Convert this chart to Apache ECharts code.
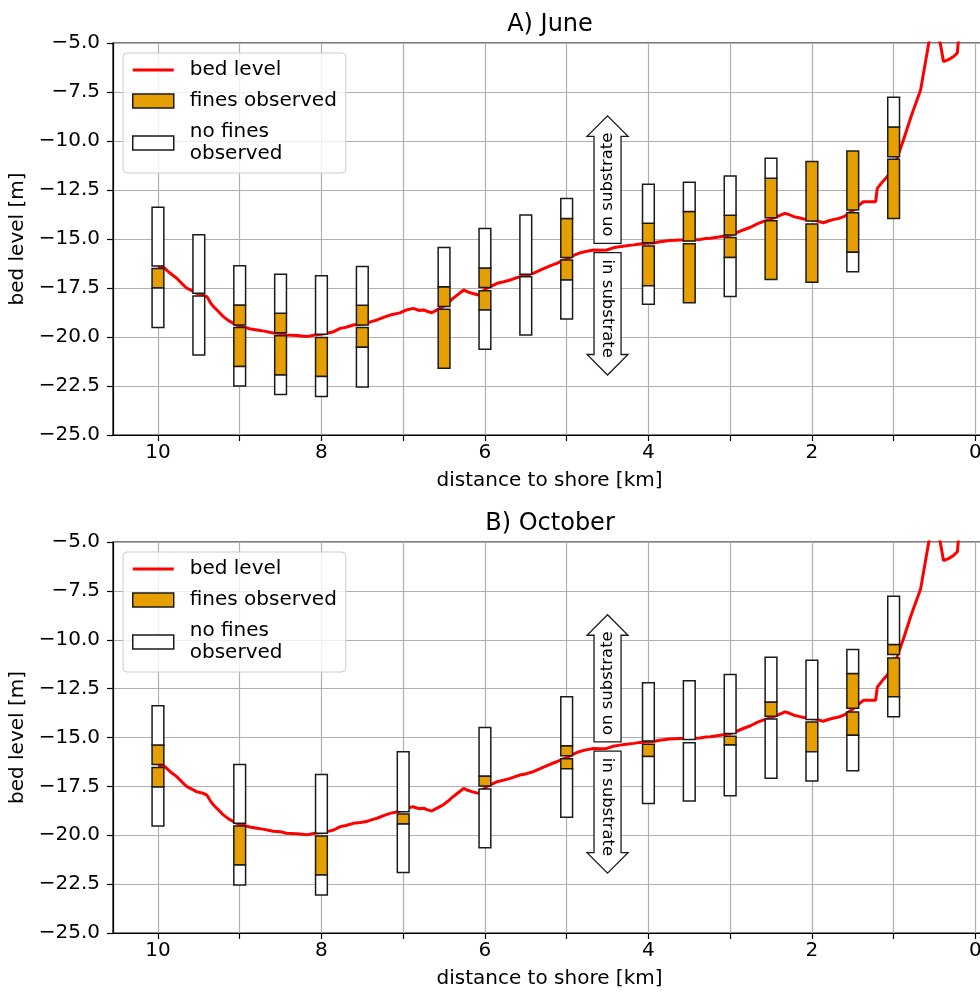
<!DOCTYPE html>
<html><head><meta charset="utf-8">
<script src="https://cdn.jsdelivr.net/npm/echarts@6/dist/echarts.min.js"></script>
<style>html,body{margin:0;padding:0;background:#fff}#c{width:980px;height:992px}</style>
</head><body><div id="c"></div><script>
// ---------------- data ----------------
const panelTitles = ['A) June', 'B) October'];
const distanceTicks = [0, 1, 2, 3, 4, 5, 6, 7, 8, 9, 10];
const distanceLabels = [0, 2, 4, 6, 8, 10];

// bed level profile: [distance to shore (km), bed level (m)]
const bedLevel = [
  [10.0,-16.45],[9.93,-16.44],[9.85,-16.75],[9.77,-17.0],[9.70,-17.3],[9.65,-17.5],[9.58,-17.65],[9.53,-17.77],
  [9.45,-17.85],[9.40,-17.95],[9.35,-18.3],[9.32,-18.45],[9.26,-18.7],[9.20,-18.96],[9.14,-19.15],[9.08,-19.3],
  [9.02,-19.42],[8.96,-19.47],[8.88,-19.58],[8.79,-19.64],[8.70,-19.7],[8.59,-19.8],[8.50,-19.82],[8.43,-19.9],
  [8.30,-19.92],[8.18,-19.98],[8.08,-19.9],[7.98,-19.85],[7.92,-19.8],[7.85,-19.73],[7.77,-19.56],[7.70,-19.5],
  [7.61,-19.39],[7.52,-19.35],[7.45,-19.3],[7.38,-19.2],[7.32,-19.13],[7.24,-19.0],[7.16,-18.88],[7.04,-18.77],
  [6.96,-18.62],[6.88,-18.54],[6.80,-18.65],[6.75,-18.62],[6.70,-18.7],[6.65,-18.76],[6.58,-18.6],[6.51,-18.45],
  [6.45,-18.25],[6.39,-18.03],[6.32,-17.8],[6.26,-17.6],[6.21,-17.7],[6.16,-17.77],[6.08,-17.86],[6.03,-17.68],
  [5.98,-17.52],[5.92,-17.4],[5.85,-17.26],[5.77,-17.18],[5.69,-17.09],[5.63,-17.0],[5.57,-16.92],[5.49,-16.85],
  [5.41,-16.75],[5.33,-16.6],[5.24,-16.44],[5.18,-16.33],[5.12,-16.24],[5.06,-16.12],[5.00,-16.03],[4.92,-15.85],
  [4.83,-15.7],[4.75,-15.62],[4.67,-15.56],[4.59,-15.58],[4.51,-15.56],[4.43,-15.45],[4.35,-15.39],[4.27,-15.35],
  [4.18,-15.3],[4.10,-15.25],[4.02,-15.22],[3.94,-15.2],[3.86,-15.14],[3.74,-15.08],[3.61,-15.05],[3.49,-15.05],
  [3.37,-15.02],[3.30,-14.98],[3.24,-14.96],[3.12,-14.88],[3.00,-14.8],[2.92,-14.68],[2.84,-14.54],[2.75,-14.4],
  [2.67,-14.23],[2.59,-14.1],[2.51,-14.0],[2.42,-13.85],[2.33,-13.69],[2.28,-13.75],[2.22,-13.86],[2.16,-13.92],
  [2.10,-13.98],[2.04,-14.0],[1.98,-14.03],[1.92,-14.1],[1.86,-14.17],[1.80,-14.08],[1.73,-14.0],[1.67,-13.95],
  [1.61,-13.86],[1.55,-13.7],[1.49,-13.52],[1.43,-13.3],[1.37,-13.1],[1.30,-13.1],[1.22,-13.1],[1.20,-12.42],
  [1.14,-12.1],[1.08,-11.82],[0.98,-11.14],[0.88,-9.95],[0.78,-8.67],[0.67,-7.4],[0.57,-5.0],[0.50,-4.2],
  [0.43,-5.0],[0.39,-5.95],[0.33,-5.85],[0.27,-5.7],[0.22,-5.5],[0.20,-4.5]
];

// sampled intervals: [distance (km), top level (m), bottom level (m)]
const juneFines = [
  [10,-16.5,-17.5],[9,-18.37,-19.39],[9,-19.52,-21.5],[8.5,-18.79,-19.78],[8.5,-19.93,-21.94],[8,-20.02,-22.02],
  [7.5,-18.38,-19.39],[7.5,-19.52,-20.52],[6.5,-17.43,-18.45],[6.5,-18.59,-21.6],[6,-16.48,-17.48],[6,-17.64,-18.62],
  [5,-13.95,-15.95],[5,-16.07,-17.09],[4,-14.2,-15.19],[4,-15.36,-17.38],[3.5,-13.6,-15.1],[3.5,-15.24,-18.25],
  [3,-13.79,-14.8],[3,-14.92,-15.95],[2.5,-11.9,-13.91],[2.5,-14.07,-17.06],[2,-11.05,-14.08],[2,-14.23,-17.21],
  [1.5,-10.51,-13.52],[1.5,-13.66,-15.68],[1,-9.29,-10.8],[1,-10.93,-13.95]
];
const juneNoFines = [
  [10,-13.38,-16.38],[10,-17.5,-19.51],[9.5,-14.78,-17.77],[9.5,-17.91,-20.92],[9,-16.36,-18.37],[9,-21.5,-22.5],
  [8.5,-16.8,-18.79],[8.5,-21.94,-22.93],[8,-16.87,-19.86],[8,-22.02,-23.04],[7.5,-16.4,-18.38],[7.5,-20.52,-22.55],
  [6.5,-15.43,-17.43],[6,-14.47,-16.48],[6,-18.62,-20.63],[5.5,-13.78,-16.8],[5.5,-16.92,-19.9],[5,-12.93,-13.95],
  [5,-17.09,-19.08],[4,-12.21,-14.2],[4,-17.38,-18.33],[3.5,-12.11,-13.6],[3,-11.79,-13.79],[3,-15.95,-17.94],
  [2.5,-10.88,-11.9],[1.5,-15.68,-16.67],[1,-7.77,-9.29]
];
const octFines = [
  [10,-15.39,-16.38],[10,-16.53,-17.53],[9,-19.53,-21.52],[8,-20.04,-22.03],[7,-18.91,-19.43],[6,-16.97,-17.48],
  [5,-15.42,-15.93],[5,-16.09,-16.6],[4,-15.35,-15.97],[3,-14.93,-15.39],[2.5,-13.18,-13.91],[2,-14.21,-15.73],
  [1.5,-11.73,-13.51],[1.5,-13.69,-14.89],[1,-10.24,-10.75],[1,-10.93,-12.92]
];
const octNoFines = [
  [10,-13.38,-15.39],[10,-17.53,-19.53],[9,-16.38,-19.39],[9,-21.52,-22.54],[8,-16.89,-19.9],[8,-22.03,-23.05],
  [7,-15.73,-18.8],[7,-19.43,-21.9],[6,-14.49,-16.97],[6,-17.64,-20.64],[5,-12.92,-15.42],[5,-16.6,-19.08],
  [4,-12.2,-15.18],[4,-15.97,-18.37],[3.5,-12.1,-15.1],[3.5,-15.27,-18.25],[3,-11.78,-14.79],[3,-15.39,-17.98],
  [2.5,-10.89,-13.18],[2.5,-14.06,-17.09],[2,-11.05,-14.08],[2,-15.73,-17.23],[1.5,-10.5,-11.73],[1.5,-14.89,-16.7],
  [1,-7.77,-10.24],[1,-12.92,-13.94]
];
// annotation arrows: [distance (km), tail level (m), tip level (m)]
const substrateArrows = [[4.5, -15.22, -8.72], [4.5, -15.7, -21.94]];
const substrateLabels = ['on substrate', 'in substrate'];

// ---------------- styling / layout ----------------
const FONT = 'DejaVu Sans';
const ORANGE = '#E69F00';
const BOX_HALF_WIDTH = 0.072; // km
const gridTops = [43, 542];
const gridHeights = [392, 391];
const legendTops = [53, 552];
const titleTops = [8, 507];

function boxRenderer(fill) {
  return function (params, api) {
    const d = api.value(0), top = api.value(1), bot = api.value(2);
    const p1 = api.coord([d + BOX_HALF_WIDTH, top]);
    const p2 = api.coord([d - BOX_HALF_WIDTH, bot]);
    return {
      type: 'rect',
      shape: { x: Math.min(p1[0], p2[0]), y: Math.min(p1[1], p2[1]),
               width: Math.abs(p2[0] - p1[0]), height: Math.abs(p2[1] - p1[1]) },
      style: { fill: fill, stroke: '#1a1a1a', lineWidth: 1.5 }
    };
  };
}

function arrowRenderer(params, api) {
  const d = api.value(0), tail = api.value(1), tip = api.value(2);
  const pb = api.coord([d, tail]), pt = api.coord([d, tip]);
  const dir = pt[1] < pb[1] ? -1 : 1;
  const bw = 13.5, hw = 20.5, hl = 20.5;
  const cx = pb[0];
  const yh = pt[1] - dir * hl;
  const pts = [[cx - bw, pb[1]], [cx + bw, pb[1]], [cx + bw, yh], [cx + hw, yh], [cx, pt[1]], [cx - hw, yh], [cx - bw, yh]];
  const ty = pb[1] + (yh - pb[1]) * 0.55;
  return {
    type: 'group',
    children: [
      { type: 'polygon', shape: { points: pts }, style: { fill: '#fff', stroke: '#1a1a1a', lineWidth: 1.3 } },
      { type: 'text', x: cx, y: ty, rotation: dir < 0 ? Math.PI / 2 : -Math.PI / 2,
        style: { text: substrateLabels[params.dataIndex], fill: '#000', font: '16.5px "DejaVu Sans"',
                 align: 'center', verticalAlign: 'middle', textAlign: 'center', textVerticalAlign: 'middle' } }
    ]
  };
}

const panels = [
  { fines: juneFines, noFines: juneNoFines },
  { fines: octFines, noFines: octNoFines }
];

const option = {
  animation: false,
  backgroundColor: '#fff',
  textStyle: { fontFamily: FONT },
  title: panelTitles.map((t, i) => ({
    text: t, left: 545, top: titleTops[i], textAlign: 'center',
    textStyle: { fontSize: 24, fontWeight: 'normal', color: '#000', fontFamily: FONT }
  })),
  legend: [0, 1].map(i => ({
    orient: 'vertical', left: 123, top: legendTops[i], z: 10,
    itemWidth: 41, itemHeight: 14, itemGap: 9,
    padding: [6, 9, 8, 9],
    backgroundColor: 'rgba(255,255,255,0.8)', borderColor: '#cccccc', borderWidth: 1, borderRadius: 4,
    selectedMode: false,
    textStyle: { fontSize: 20, lineHeight: 22, color: '#000', fontFamily: FONT, padding: [0, 0, 0, 11] },
    data: [
      { name: 'bed level', icon: 'path://M0,0L41,0L41,3L0,3Z', itemStyle: { color: '#ff0000', borderWidth: 0 } },
      { name: 'fines observed', icon: 'rect', itemStyle: { color: ORANGE, borderColor: '#1a1a1a', borderWidth: 1.5 } },
      { name: 'no fines\nobserved', icon: 'rect', itemStyle: { color: '#fff', borderColor: '#1a1a1a', borderWidth: 1.5 } }
    ]
  })),
  grid: gridTops.map((t, i) => ({
    left: 113, width: 873, top: t, height: gridHeights[i],
    containLabel: false, outerBoundsMode: 'none',
    show: true, borderColor: '#000', borderWidth: 1.2, backgroundColor: 'transparent'
  })),
  xAxis: [0, 1].map(i => ({
    type: 'value', gridIndex: i, inverse: true, min: -0.13, max: 10.55,
    name: 'distance to shore [km]', nameLocation: 'middle', nameGap: 36,
    nameTextStyle: { fontSize: 20, color: '#000', fontFamily: FONT },
    axisLine: { show: true, onZero: false, lineStyle: { color: '#000', width: 1.2 } },
    axisTick: { show: true, length: 6, customValues: distanceTicks, lineStyle: { color: '#000', width: 1.2 } },
    axisLabel: { show: true, customValues: distanceLabels, showMinLabel: true, showMaxLabel: true, hideOverlap: false,
                 fontSize: 20, color: '#000', fontFamily: FONT, margin: 8 },
    splitLine: { show: true, lineStyle: { color: '#b0b0b0', width: 1.2 } }
  })),
  yAxis: [0, 1].map(i => ({
    type: 'value', gridIndex: i, min: -25, max: -5, interval: 2.5,
    name: 'bed level [m]', nameLocation: 'middle', nameGap: 80, nameRotate: 90,
    nameTextStyle: { fontSize: 20, color: '#000', fontFamily: FONT },
    axisLine: { show: true, onZero: false, lineStyle: { color: '#000', width: 1.2 } },
    axisTick: { show: true, length: 6, lineStyle: { color: '#000', width: 1.2 } },
    axisLabel: { fontSize: 20, color: '#000', fontFamily: FONT, margin: 13,
                 formatter: v => (v < 0 ? '\u2212' : '') + Math.abs(v).toFixed(1) },
    splitLine: { show: true, lineStyle: { color: '#b0b0b0', width: 1.2 } }
  })),
  series: []
};

panels.forEach((p, i) => {
  option.series.push({
    name: 'bed level', type: 'line', xAxisIndex: i, yAxisIndex: i, data: bedLevel,
    showSymbol: false, symbol: 'none', clip: true, z: 2,
    lineStyle: { color: '#ff0000', width: 3 }, itemStyle: { color: '#ff0000' }
  });
  option.series.push({
    name: 'fines observed', type: 'custom', xAxisIndex: i, yAxisIndex: i, data: p.fines, z: 3,
    itemStyle: { color: ORANGE }, renderItem: boxRenderer(ORANGE), encode: { x: 0, y: [1, 2] }
  });
  option.series.push({
    name: 'no fines\nobserved', type: 'custom', xAxisIndex: i, yAxisIndex: i, data: p.noFines, z: 3,
    itemStyle: { color: '#fff' }, renderItem: boxRenderer('#fff'), encode: { x: 0, y: [1, 2] }
  });
  option.series.push({
    name: 'substrate arrows', type: 'custom', xAxisIndex: i, yAxisIndex: i, data: substrateArrows, z: 4,
    renderItem: arrowRenderer, encode: { x: 0, y: [1, 2] }
  });
});

const chart = echarts.init(document.getElementById('c'), null, { renderer: 'canvas' });
chart.setOption(option);
</script></body></html>
